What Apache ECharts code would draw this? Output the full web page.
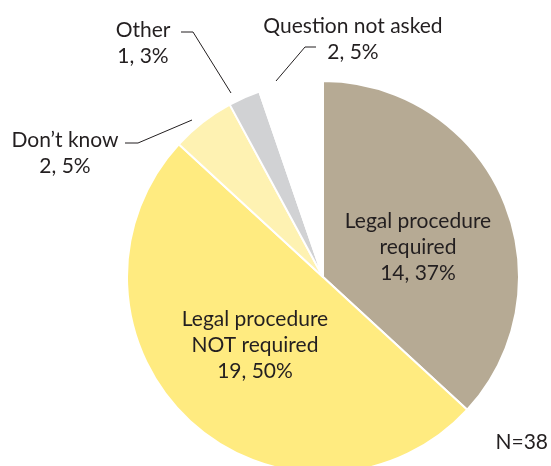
<!DOCTYPE html>
<html>
<head>
<meta charset="utf-8">
<script src="https://cdn.jsdelivr.net/npm/echarts@6/dist/echarts.min.js"></script>
<style>html,body{margin:0;padding:0;background:#fff;}#c{width:551px;height:466px;}</style>
</head>
<body>
<div id="c"></div>
<script>
const categories = ["Legal procedure\nrequired", "Legal procedure\nNOT required", "Don\u2019t know", "Other", "Question not asked"];
const counts = [14, 19, 2, 1, 2];
const colors = ["#B6AA94", "#FFEB80", "#FEF2B2", "#D1D2D4", "#FFFFFF"];
const totalLabel = "N=38";

const labelPos = [
  {x: 418, y: 247},
  {x: 255, y: 345},
  {x: 65, y: 153, line: [[192,120],[138,143],[125,143]]},
  {x: 143, y: 43, line: [[231,93],[193,32],[181,32]]},
  {x: 353, y: 39, line: [[276,81],[305,47],[316,47]]}
];

const chart = echarts.init(document.getElementById('c'), null, {renderer: 'canvas'});
const font = 'Lato';
chart.setOption({
  animation: false,
  graphic: [{
    type: 'text', right: 3, top: 432,
    style: {text: totalLabel, font: '21px ' + font, fill: '#231F20'}
  }],
  series: [{
    type: 'pie',
    center: [323, 277],
    radius: 196,
    startAngle: 90,
    clockwise: true,
    avoidLabelOverlap: false,
    itemStyle: {borderColor: '#fff', borderWidth: 2},
    label: {
      show: true,
      fontFamily: font,
      fontSize: 21,
      lineHeight: 26,
      color: '#231F20',
      align: 'center',
      formatter: p => p.name + '\n' + p.value + ', ' + Math.round(p.percent) + '%'
    },
    labelLine: {show: true, lineStyle: {color: '#231F20', width: 1}},
    labelLayout: function (params) {
      const lp = labelPos[params.dataIndex];
      const r = {x: lp.x, y: lp.y, align: 'center', verticalAlign: 'middle'};
      if (lp.line) r.labelLinePoints = lp.line;
      return r;
    },
    data: categories.map((c, i) => ({
      name: c,
      value: counts[i],
      itemStyle: {color: colors[i]},
      labelLine: {show: !!labelPos[i].line}
    }))
  }]
});
</script>
</body>
</html>
